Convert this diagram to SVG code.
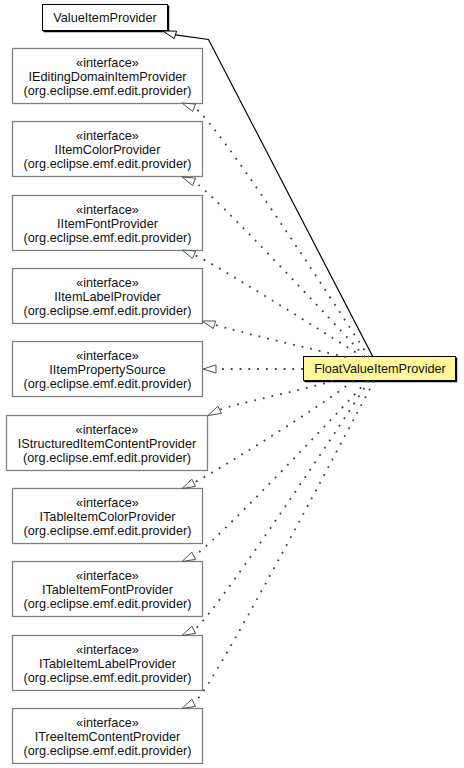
<svg xmlns="http://www.w3.org/2000/svg" width="464" height="768" viewBox="0 0 464 768">
<style>
text{font-family:"Liberation Sans",Arial,sans-serif;font-size:12.7px;text-anchor:middle;fill:#111}
.iface rect{fill:#fff;stroke:#808080;stroke-width:1.3}
.cls rect{stroke:#000;stroke-width:1}
.shadow{fill:none;stroke:#000;stroke-width:1.2}
.dep{fill:none;stroke:#404040;stroke-width:1.8;stroke-dasharray:1.8 7}
.arr{fill:#fff;stroke:#505050;stroke-width:1}
.gen{fill:none;stroke:#000;stroke-width:1.2}
.garr{fill:#fff;stroke:#000;stroke-width:1}
</style>
<rect width="464" height="768" fill="#fff"/>

<g id="ValueItemProvider" class="cls">
<rect x="42.5" y="4.5" width="125" height="26" fill="#fff"/>
<path class="shadow" d="M168.6,5.5V31.6H43.5"/>
<text x="105" y="21.7">ValueItemProvider</text>
</g>

<g id="FloatValueItemProvider" class="cls">
<rect x="303.5" y="356.5" width="152" height="24" fill="#fff799"/>
<path class="shadow" d="M456.6,357.5V381.6H304.5"/>
<text x="380" y="373">FloatValueItemProvider</text>
</g>

<g id="IEditingDomainItemProvider" class="iface">
<rect x="12.5" y="48.5" width="190" height="55"/>
<text x="107.5" y="67">«interface»</text>
<text x="107.5" y="81">IEditingDomainItemProvider</text>
<text x="107.5" y="95">(org.eclipse.emf.edit.provider)</text>
</g>
<g id="IItemColorProvider" class="iface">
<rect x="12.5" y="121.5" width="190" height="55"/>
<text x="107.5" y="140">«interface»</text>
<text x="107.5" y="154">IItemColorProvider</text>
<text x="107.5" y="168">(org.eclipse.emf.edit.provider)</text>
</g>
<g id="IItemFontProvider" class="iface">
<rect x="12.5" y="195.5" width="190" height="55"/>
<text x="107.5" y="214">«interface»</text>
<text x="107.5" y="228">IItemFontProvider</text>
<text x="107.5" y="242">(org.eclipse.emf.edit.provider)</text>
</g>
<g id="IItemLabelProvider" class="iface">
<rect x="12.5" y="268.5" width="190" height="55"/>
<text x="107.5" y="287">«interface»</text>
<text x="107.5" y="301">IItemLabelProvider</text>
<text x="107.5" y="315">(org.eclipse.emf.edit.provider)</text>
</g>
<g id="IItemPropertySource" class="iface">
<rect x="12.5" y="341.5" width="190" height="55"/>
<text x="107.5" y="360">«interface»</text>
<text x="107.5" y="374">IItemPropertySource</text>
<text x="107.5" y="388">(org.eclipse.emf.edit.provider)</text>
</g>
<g id="IStructuredItemContentProvider" class="iface">
<rect x="6.5" y="415.5" width="201" height="55"/>
<text x="107" y="434">«interface»</text>
<text x="107" y="448">IStructuredItemContentProvider</text>
<text x="107" y="462">(org.eclipse.emf.edit.provider)</text>
</g>
<g id="ITableItemColorProvider" class="iface">
<rect x="12.5" y="488.5" width="190" height="55"/>
<text x="107.5" y="507">«interface»</text>
<text x="107.5" y="521">ITableItemColorProvider</text>
<text x="107.5" y="535">(org.eclipse.emf.edit.provider)</text>
</g>
<g id="ITableItemFontProvider" class="iface">
<rect x="12.5" y="561.5" width="190" height="55"/>
<text x="107.5" y="580">«interface»</text>
<text x="107.5" y="594">ITableItemFontProvider</text>
<text x="107.5" y="608">(org.eclipse.emf.edit.provider)</text>
</g>
<g id="ITableItemLabelProvider" class="iface">
<rect x="12.5" y="635.5" width="190" height="55"/>
<text x="107.5" y="654">«interface»</text>
<text x="107.5" y="668">ITableItemLabelProvider</text>
<text x="107.5" y="682">(org.eclipse.emf.edit.provider)</text>
</g>
<g id="ITreeItemContentProvider" class="iface">
<rect x="12.5" y="708.5" width="190" height="55"/>
<text x="107.5" y="727">«interface»</text>
<text x="107.5" y="741">ITreeItemContentProvider</text>
<text x="107.5" y="755">(org.eclipse.emf.edit.provider)</text>
</g>

<g id="connectors">
<path class="gen" d="M373,357L208.5,39.5L175.4,34.9"/>
<polygon class="garr" points="163,31 176.6,31.1 174.2,38.7"/>

<path class="dep" d="M369,357C330,297 212,115 194.1,107.8"/>
<polygon class="arr" points="182,103 195.6,104.1 192.6,111.5"/>
<path class="dep" d="M365,357C340,329 208,188 194.1,181.8"/>
<polygon class="arr" points="182,177 195.6,178.1 192.6,185.5"/>
<path class="dep" d="M363,357C320,330 212,262 194.1,254.8"/>
<polygon class="arr" points="182,250 195.6,251.1 192.6,258.5"/>
<path class="dep" d="M346,357C310,349 240,332 214.4,324.8"/>
<polygon class="arr" points="202,321 215.6,321 213.3,328.6"/>
<path class="dep" d="M303,369H216"/>
<polygon class="arr" points="203,369 216,365 216,373"/>
<path class="dep" d="M333,381C300,390.5 235,404 219.7,409.8"/>
<polygon class="arr" points="208,415.5 221.5,413.4 217.9,406.2"/>
<path class="dep" d="M353,381C320,407 212,474 193.7,482.8"/>
<polygon class="arr" points="182,488.5 195.5,486.4 191.9,479.2"/>
<path class="dep" d="M367,381C338,413 208,550 193.7,555.8"/>
<polygon class="arr" points="182,561.5 195.5,559.4 191.9,552.2"/>
<path class="dep" d="M369,381C330,441 208,624 193.7,629.8"/>
<polygon class="arr" points="182,635.5 195.5,633.4 191.9,626.2"/>
<path class="dep" d="M374,381C340,445 208,697 193.7,702.8"/>
<polygon class="arr" points="182,708.5 195.5,706.4 191.9,699.2"/>
</g>
</svg>
